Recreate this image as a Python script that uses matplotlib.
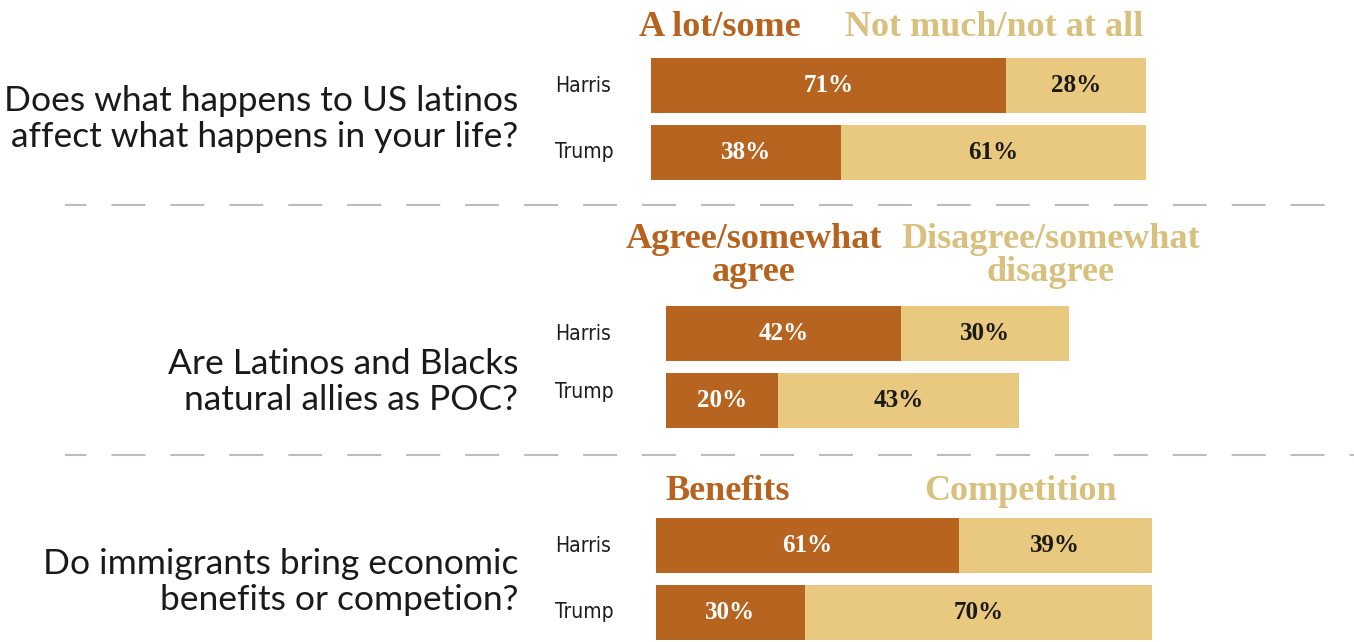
import matplotlib.pyplot as plt

# survey results, share of each candidate's supporters (%)
questions = [
    "Does what happens to US latinos\naffect what happens in your life?",
    "Are Latinos and Blacks\nnatural allies as POC?",
    "Do immigrants bring economic\nbenefits or competion?",
]
first_labels = ["A lot/some", "Agree/somewhat\nagree", "Benefits"]
second_labels = ["Not much/not at all", "Disagree/somewhat\ndisagree", "Competition"]
candidates = ["Harris", "Trump"]
first_values = [[71, 38], [42, 20], [61, 30]]
second_values = [[28, 61], [30, 43], [39, 70]]

DARK = "#B6641F"
LIGHT = "#E9C880"
DARK_TXT = "#B5631F"
LIGHT_TXT = "#D8C17E"
W, H = 1354, 642

fig = plt.figure(figsize=(W / 100, H / 100), dpi=100)
fig.patch.set_facecolor("white")

# background axes in pixel units for the free text and the dashed dividers
bg = fig.add_axes([0, 0, 1, 1])
bg.set_xlim(0, W)
bg.set_ylim(H, 0)
bg.axis("off")

# per-section layout: bar axes left edge, px per percent, top of first bar,
# header centres, question text y
sections = [
    dict(x0=651, scale=5.0, top=58, hx=(720, 994), hy=28, qy=119),
    dict(x0=666, scale=5.6, top=306, hx=(754, 1051), hy=256, qy=382),
    dict(x0=656, scale=4.96, top=518, hx=(728, 1021), hy=491, qy=582),
]
bar_h, gap = 55, 12
serif = "Liberation Serif"

for i, s in enumerate(sections):
    span = bar_h * 2 + gap
    ax = fig.add_axes([s["x0"] / W, 1 - (s["top"] + span) / H, 100 * s["scale"] / W, span / H])
    ax.set_xlim(0, 100)
    ax.set_ylim(1 + (bar_h / 2) / (bar_h + gap), -(bar_h / 2) / (bar_h + gap))
    ax.axis("off")
    h = bar_h / (bar_h + gap)
    ypos = [0, 1]
    ax.barh(ypos, first_values[i], height=h, color=DARK, left=0)
    ax.barh(ypos, second_values[i], height=h, color=LIGHT, left=first_values[i])
    for y, a, b in zip(ypos, first_values[i], second_values[i]):
        ax.text(a / 2, y, f"{a}%", ha="center", va="center", color="white",
                fontsize=18, fontweight="bold", family=serif)
        ax.text(a + b / 2, y, f"{b}%", ha="center", va="center", color="#1c1a17",
                fontsize=18, fontweight="bold", family=serif)

    # candidate names beside the bars
    for j, name in enumerate(candidates):
        yc = s["top"] + bar_h / 2 + j * (bar_h + gap)
        if i == 1 and j == 1:
            yc -= 8
        bg.text(555, yc, name, ha="left", va="center", fontsize=15,
                family="DejaVu Sans", fontstretch="condensed", color="#1c1c1c")

    # column headers
    bg.text(s["hx"][0], s["hy"], first_labels[i], ha="center", va="center", color=DARK_TXT,
            fontsize=26, fontweight="bold", family=serif, linespacing=0.98)
    bg.text(s["hx"][1], s["hy"], second_labels[i], ha="center", va="center", color=LIGHT_TXT,
            fontsize=26, fontweight="bold", family=serif, linespacing=0.98)

    # question on the left
    bg.text(518, s["qy"], questions[i], ha="right", va="center", fontsize=25.5,
            family="Lato", color="#1a1a1a", linespacing=1.12)

# dashed dividers between the questions
bg.hlines(205, 65, 1330, colors="#bcbcbc", linestyles=(6, (16.3, 12)), lw=1.5)
bg.hlines(455, 65, 1354, colors="#bcbcbc", linestyles=(6, (16.3, 12)), lw=1.5)

fig.savefig("out.png", dpi=100, facecolor="white")
